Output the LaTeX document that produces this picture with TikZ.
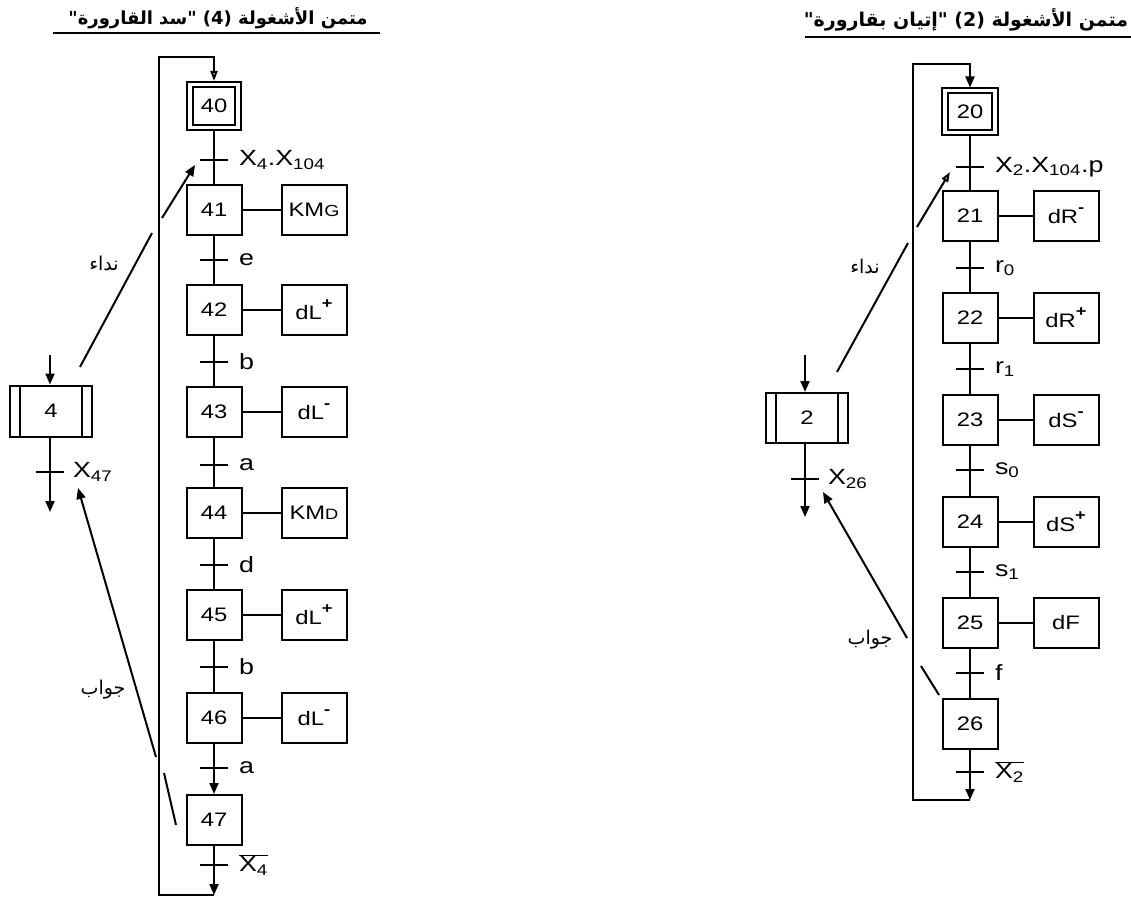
\documentclass[tikz,border=0pt]{standalone}
\usepackage{fontspec}
\setmainfont[FakeStretch=1.22]{Liberation Sans}
\newfontfamily\arabicfont[Script=Arabic]{DejaVu Sans}
\TeXXeTstate=1
\usetikzlibrary{arrows.meta}
\newcommand\ovx[1]{\ensuremath{\overline{\hbox{X\textsubscript{#1}}}}}
\newcommand\supb[1]{\raisebox{0.55em}{\fontsize{15}{16}\selectfont\bfseries #1}}
\begin{document}
\begin{tikzpicture}[x=1pt,y=-1pt,
 line width=2pt,
 every node/.style={inner sep=0pt},
 stepbox/.style={draw, minimum width=55pt, minimum height=50pt, font=\fontsize{19.5}{20}\selectfont},
 actbox/.style={draw, minimum width=65pt, minimum height=50pt, font=\fontsize{19.5}{20}\selectfont},
 macrobox/.style={draw, minimum width=82pt, minimum height=51pt, font=\fontsize{19.5}{20}\selectfont},
 trans/.style={fill=black, minimum width=28pt, minimum height=2pt},
 tlabel/.style={xshift=9pt, font=\fontsize{22}{24}\selectfont},
 arabic/.style={font=\arabicfont\fontsize{19}{21}\selectfont},
 titlestyle/.style={font=\arabicfont\bfseries\fontsize{18}{20}\selectfont},
 tip/.style={-{Triangle[length=11pt,width=9pt]}},
 opentip/.style={-{Triangle[open,length=10pt,width=7pt]}},
]
\fill[white] (0,0) rectangle (1131,901);
\useasboundingbox (0,0) rectangle (1131,901);

% ================= LEFT : task 4 =================
\node[titlestyle] (title4) at (218,18) {\beginR متمن الأشغولة (4) "سد القارورة"\endR};
\coordinate (u4a) at (53,33); \coordinate (u4b) at (380,33);
\draw (u4a) -- (u4b);

\node[draw, minimum width=54pt, minimum height=48pt] (s40) at (214,106) {};
\node[draw, minimum width=42pt, minimum height=38pt, font=\fontsize{19.5}{20}\selectfont] (s40i) at (214,106) {40};
\node[stepbox] (s41) at (214,210) {41};
\node[stepbox] (s42) at (214,310) {42};
\node[stepbox] (s43) at (214,412) {43};
\node[stepbox] (s44) at (214,513) {44};
\node[stepbox] (s45) at (214,615) {45};
\node[stepbox] (s46) at (214,718) {46};
\node[stepbox] (s47) at (214,820) {47};

\node[actbox] (a41) at (314,210) {KM{\fontsize{16}{16}\selectfont G}};
\node[actbox] (a42) at (314,310) {dL\supb{+}};
\node[actbox] (a43) at (314,412) {dL\supb{-}};
\node[actbox] (a44) at (314,513) {KM{\fontsize{15}{16}\selectfont D}};
\node[actbox] (a45) at (314,615) {dL\supb{+}};
\node[actbox] (a46) at (314,718) {dL\supb{-}};

\foreach \s in {41,...,46} { \draw (s\s.east) -- (a\s.west); }

\draw (s40.south) -- (s41.north);
\draw (s41.south) -- (s42.north);
\draw (s42.south) -- (s43.north);
\draw (s43.south) -- (s44.north);
\draw (s44.south) -- (s45.north);
\draw (s45.south) -- (s46.north);
\draw[tip] (s46.south) -- (s47.north);

\node[trans, label={[tlabel]east:X\textsubscript{4}.X\textsubscript{104}}] (t40) at (214,160) {};
\node[trans, label={[tlabel]east:e}] (t41) at (214,260) {};
\node[trans, label={[tlabel]east:b}] (t42) at (214,362) {};
\node[trans, label={[tlabel]east:a}] (t43) at (214,465) {};
\node[trans, label={[tlabel]east:d}] (t44) at (214,565) {};
\node[trans, label={[tlabel]east:b}] (t45) at (214,667) {};
\node[trans, label={[tlabel]east:a}] (t46) at (214,768) {};
\node[trans, label={[tlabel]east:\ovx{4}}] (t47) at (214,865) {};

\coordinate (c47) at (214,895);
\coordinate (l4a) at (159,895);
\coordinate (l4b) at (159,57);
\coordinate (l4c) at (214,57);
\draw[tip] (s47.south) -- (c47);
\draw[opentip] (c47) -- (l4a) -- (l4b) -- (l4c) -- (s40.north);

% macro step 4
\node[macrobox] (m4) at (51,411) {4};
\draw ([xshift=11pt]m4.north west) -- ([xshift=11pt]m4.south west);
\draw ([xshift=-11pt]m4.north east) -- ([xshift=-11pt]m4.south east);
\coordinate (in4) at (50,355);
\coordinate (out4) at (50,512);
\draw[tip] (in4) -- (in4 |- m4.north);
\draw[tip] (out4 |- m4.south) -- (out4);
\node[trans, label={[tlabel, xshift=-2pt]east:X\textsubscript{47}}] (tm4) at (50,472) {};

% call / answer arrows
\coordinate (n4a) at (80,367); \coordinate (n4b) at (152,233);
\coordinate (n4c) at (162,218); \coordinate (n4d) at (195,165);
\draw (n4a) -- (n4b);
\draw[tip] (n4c) -- (n4d);
\node[arabic] (lbl4n) at (104,263) {\beginR نداء\endR};

\coordinate (j4a) at (176,825); \coordinate (j4b) at (164,773);
\coordinate (j4c) at (156,757); \coordinate (j4d) at (78,488);
\draw (j4a) -- (j4b);
\draw[tip] (j4c) -- (j4d);
\node[arabic] (lbl4j) at (103,690) {\beginR جواب\endR};

% ================= RIGHT : task 2 =================
\node[titlestyle, font=\arabicfont\bfseries\fontsize{19}{21}\selectfont] (title2) at (966,20) {\beginR متمن الأشغولة (2) "إتيان بقارورة"\endR};
\coordinate (u2a) at (805,37); \coordinate (u2b) at (1131,37);
\draw (u2a) -- (u2b);

\node[draw, minimum width=56pt, minimum height=47pt] (s20) at (970,112) {};
\node[draw, minimum width=44pt, minimum height=37pt, font=\fontsize{19.5}{20}\selectfont] (s20i) at (970,112) {20};
\node[stepbox] (s21) at (970,216) {21};
\node[stepbox] (s22) at (970,318) {22};
\node[stepbox] (s23) at (970,420) {23};
\node[stepbox] (s24) at (970,522) {24};
\node[stepbox] (s25) at (970,623) {25};
\node[stepbox] (s26) at (970,724) {26};

\node[actbox] (a21) at (1066,216) {dR\supb{-}};
\node[actbox] (a22) at (1066,318) {dR\supb{+}};
\node[actbox] (a23) at (1066,420) {dS\supb{-}};
\node[actbox] (a24) at (1066,522) {dS\supb{+}};
\node[actbox] (a25) at (1066,623) {dF};
\foreach \s in {21,...,25} { \draw (s\s.east) -- (a\s.west); }

\draw (s20.south) -- (s21.north);
\draw (s21.south) -- (s22.north);
\draw (s22.south) -- (s23.north);
\draw (s23.south) -- (s24.north);
\draw (s24.south) -- (s25.north);
\draw (s25.south) -- (s26.north);

\node[trans, label={[tlabel]east:X\textsubscript{2}.X\textsubscript{104}.p}] (t20) at (970,167) {};
\node[trans, label={[tlabel]east:r\textsubscript{0}}] (t21) at (970,268) {};
\node[trans, label={[tlabel]east:r\textsubscript{1}}] (t22) at (970,369) {};
\node[trans, label={[tlabel]east:s\textsubscript{0}}] (t23) at (970,470) {};
\node[trans, label={[tlabel]east:s\textsubscript{1}}] (t24) at (970,572) {};
\node[trans, label={[tlabel]east:f}] (t25) at (970,673) {};
\node[trans, label={[tlabel]east:\ovx{2}}] (t26) at (970,772) {};

\coordinate (c26) at (970,800);
\coordinate (l2a) at (913,800);
\coordinate (l2b) at (913,64);
\coordinate (l2c) at (970,64);
\draw[tip] (s26.south) -- (c26);
\draw[tip] (c26) -- (l2a) -- (l2b) -- (l2c) -- (s20.north);

% macro step 2
\node[macrobox, minimum height=50pt] (m2) at (807,418) {2};
\draw ([xshift=11pt]m2.north west) -- ([xshift=11pt]m2.south west);
\draw ([xshift=-11pt]m2.north east) -- ([xshift=-11pt]m2.south east);
\coordinate (in2) at (805,355);
\coordinate (out2) at (805,517);
\draw[tip] (in2) -- (in2 |- m2.north);
\draw[tip] (out2 |- m2.south) -- (out2);
\node[trans, label={[tlabel, xshift=-2pt]east:X\textsubscript{26}}] (tm2) at (805,479) {};

\coordinate (n2a) at (837,372); \coordinate (n2b) at (908,243);
\coordinate (n2c) at (917,227); \coordinate (n2d) at (950,172);
\draw (n2a) -- (n2b);
\draw[opentip] (n2c) -- (n2d);
\node[arabic] (lbl2n) at (865,266) {\beginR نداء\endR};

\coordinate (j2a) at (939,695); \coordinate (j2b) at (921,666);
\coordinate (j2c) at (907,638); \coordinate (j2d) at (823,492);
\draw (j2a) -- (j2b);
\draw[tip] (j2c) -- (j2d);
\node[arabic] (lbl2j) at (870,640) {\beginR جواب\endR};
\end{tikzpicture}
\end{document}
